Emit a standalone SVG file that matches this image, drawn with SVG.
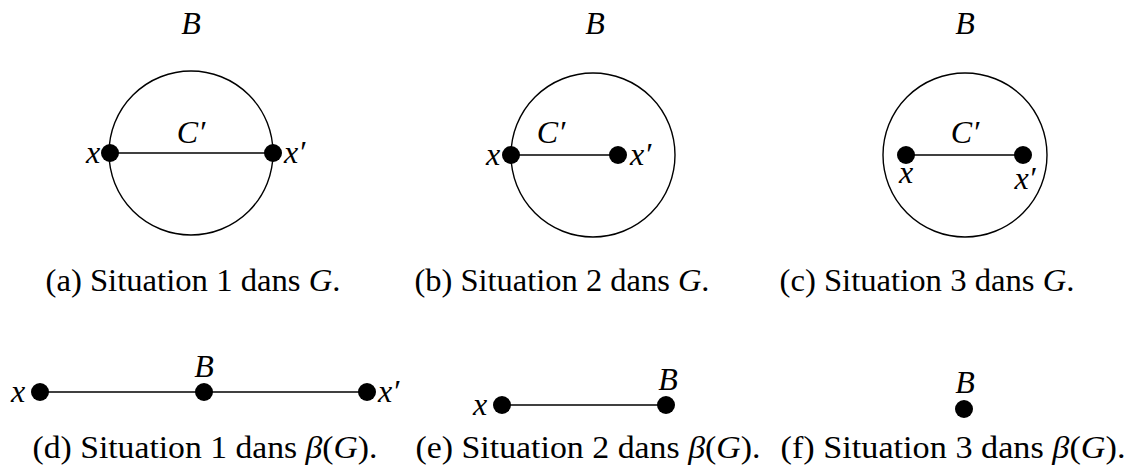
<svg xmlns="http://www.w3.org/2000/svg" width="1135" height="474" viewBox="0 0 1135 474">
<style>
  text { font-family: "Liberation Serif", "DejaVu Serif", serif; font-size: 31px; fill: #000; }
  .m { font-style: italic; }
  .lbl { font-size: 32px; }
  .cap { text-anchor: middle; }
  .c { text-anchor: middle; }
  .edge { stroke: #000; stroke-width: 1.4; fill: none; }
  .ring { stroke: #000; stroke-width: 1.4; fill: none; }
  .dot { fill: #000; }
</style>
<rect width="1135" height="474" fill="#fff"/>

<!-- Panel (a) -->
<g id="panel-a">
  <text class="m c lbl" x="191" y="34">B</text>
  <circle class="ring" cx="191" cy="153" r="82"/>
  <text class="m c lbl" x="191" y="143">C′</text>
  <line class="edge" x1="110" y1="153" x2="273" y2="153"/>
  <circle class="dot" cx="110" cy="153" r="9"/>
  <circle class="dot" cx="273" cy="153" r="9"/>
  <text class="m lbl" x="86" y="163">x</text>
  <text class="m lbl" x="284" y="163">x′</text>
  <text class="cap" x="193" y="291" textLength="295" lengthAdjust="spacingAndGlyphs">(a) Situation 1 dans <tspan class="m">G</tspan>.</text>
</g>

<!-- Panel (b) -->
<g id="panel-b">
  <text class="m c lbl" x="595" y="34">B</text>
  <circle class="ring" cx="593" cy="155" r="82"/>
  <text class="m c lbl" x="551" y="143">C′</text>
  <line class="edge" x1="511" y1="155" x2="618" y2="155"/>
  <circle class="dot" cx="511" cy="155" r="9"/>
  <circle class="dot" cx="618" cy="155" r="9"/>
  <text class="m lbl" x="486" y="165">x</text>
  <text class="m lbl" x="630" y="165">x′</text>
  <text class="cap" x="562" y="291" textLength="295" lengthAdjust="spacingAndGlyphs">(b) Situation 2 dans <tspan class="m">G</tspan>.</text>
</g>

<!-- Panel (c) -->
<g id="panel-c">
  <text class="m c lbl" x="965" y="34">B</text>
  <circle class="ring" cx="965" cy="155" r="82"/>
  <text class="m c lbl" x="965" y="143">C′</text>
  <line class="edge" x1="906" y1="155" x2="1023" y2="155"/>
  <circle class="dot" cx="906" cy="155" r="9"/>
  <circle class="dot" cx="1023" cy="155" r="9"/>
  <text class="m c lbl" x="906" y="183">x</text>
  <text class="m c lbl" x="1025" y="189">x′</text>
  <text class="cap" x="927" y="291" textLength="295" lengthAdjust="spacingAndGlyphs">(c) Situation 3 dans <tspan class="m">G</tspan>.</text>
</g>

<!-- Panel (d) -->
<g id="panel-d">
  <line class="edge" x1="40" y1="392" x2="367" y2="392"/>
  <circle class="dot" cx="40" cy="392" r="9"/>
  <circle class="dot" cx="204" cy="392" r="9"/>
  <circle class="dot" cx="367" cy="392" r="9"/>
  <text class="m lbl" x="11" y="402">x</text>
  <text class="m lbl" x="378" y="402">x′</text>
  <text class="m c lbl" x="204" y="377">B</text>
  <text class="cap" x="205" y="458" textLength="345" lengthAdjust="spacingAndGlyphs">(d) Situation 1 dans <tspan class="m">β</tspan>(<tspan class="m">G</tspan>).</text>
</g>

<!-- Panel (e) -->
<g id="panel-e">
  <line class="edge" x1="502" y1="405" x2="666" y2="405"/>
  <circle class="dot" cx="502" cy="405" r="9"/>
  <circle class="dot" cx="666" cy="405" r="9"/>
  <text class="m lbl" x="473" y="415">x</text>
  <text class="m c lbl" x="668" y="390">B</text>
  <text class="cap" x="588" y="458" textLength="345" lengthAdjust="spacingAndGlyphs">(e) Situation 2 dans <tspan class="m">β</tspan>(<tspan class="m">G</tspan>).</text>
</g>

<!-- Panel (f) -->
<g id="panel-f">
  <circle class="dot" cx="964" cy="409" r="9"/>
  <text class="m c lbl" x="965" y="393">B</text>
  <text class="cap" x="953" y="458" textLength="345" lengthAdjust="spacingAndGlyphs">(f) Situation 3 dans <tspan class="m">β</tspan>(<tspan class="m">G</tspan>).</text>
</g>
</svg>
